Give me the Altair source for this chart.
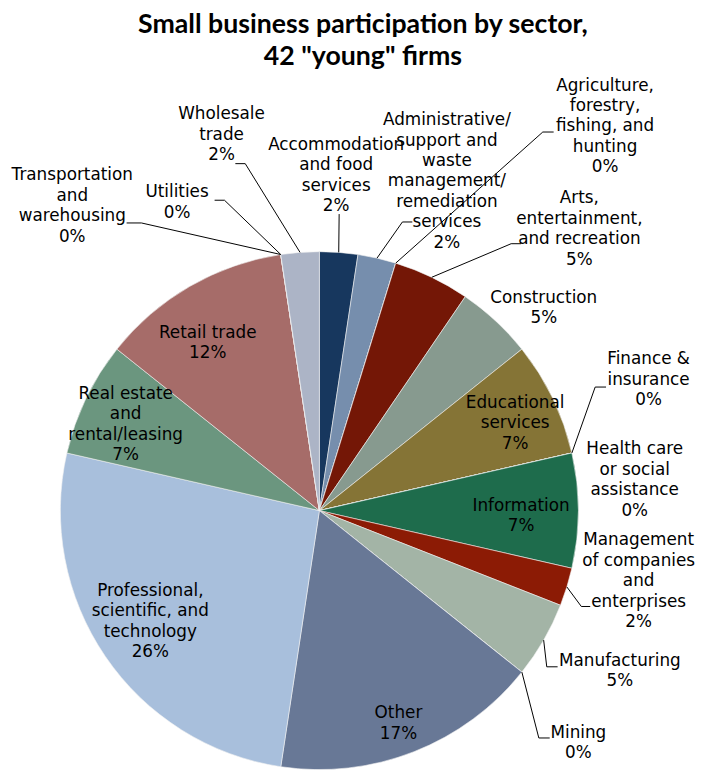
import math
import altair as alt
import pandas as pd

# ---------------- data ----------------
SECTORS = [
    "Accommodation and food services",
    "Administrative/support and waste management/remediation services",
    "Agriculture, forestry, fishing, and hunting",
    "Arts, entertainment, and recreation",
    "Construction",
    "Educational services",
    "Finance & insurance",
    "Health care or social assistance",
    "Information",
    "Management of companies and enterprises",
    "Manufacturing",
    "Mining",
    "Other",
    "Professional, scientific, and technology",
    "Real estate and rental/leasing",
    "Retail trade",
    "Transportation and warehousing",
    "Utilities",
    "Wholesale trade",
]
FIRMS = [1, 1, 0, 2, 2, 3, 0, 0, 3, 1, 2, 0, 7, 11, 3, 5, 0, 0, 1]

LABEL_TEXT = [
    "Accommodation\nand food\nservices",
    "Administrative/\nsupport and\nwaste\nmanagement/\nremediation\nservices",
    "Agriculture,\nforestry,\nfishing, and\nhunting",
    "Arts,\nentertainment,\nand recreation",
    "Construction",
    "Educational\nservices",
    "Finance &\ninsurance",
    "Health care\nor social\nassistance",
    "Information",
    "Management\nof companies\nand\nenterprises",
    "Manufacturing",
    "Mining",
    "Other",
    "Professional,\nscientific, and\ntechnology",
    "Real estate\nand\nrental/leasing",
    "Retail trade",
    "Transportation\nand\nwarehousing",
    "Utilities",
    "Wholesale\ntrade",
]

COLORS = [
    "#17375E", "#768EAD", "#4F6228", "#741706", "#879A8F", "#857436",
    "#4BACC6", "#F79646", "#1E6C4C", "#8C1B05", "#A3B4A6", "#7F7F7F",
    "#687896", "#A8BFDC", "#6B967F", "#A66C69", "#C0504D", "#9BBB59",
    "#ACB4C6",
]

TITLE = ["Small business participation by sector,", '42 "young" firms']

# ---------------- layout (page pixel positions) ----------------
CX, CY, R = 323, 512, 262
# centre x of each label block and y of its first line
LABEL_X = [340, 452, 612, 586, 550, 521, 656, 642, 527, 646, 627, 585, 403, 152, 127, 210, 73, 179, 224]
LABEL_Y = [142, 117, 82, 196, 297, 403, 359, 450, 507, 542, 664, 737, 717, 593, 394, 332, 173, 190, 111]

# leader lines: sector index -> (label-side point, elbow point)
LEADERS = {
    16: ((128, 221), (143, 221)),
    17: ((217, 198), (227, 198)),
    18: ((238, 161), (248, 161)),
    0: ((343, 212), (343, 212)),
    1: ((417, 220), (407, 220)),
    2: ((560, 129), (549, 129)),
    3: ((527, 242), (517, 242)),
    6: ((613, 387), (602, 387)),
    9: ((597, 609), (588, 609)),
    10: ((564, 670), (553, 670)),
    11: ((556, 742), (545, 742)),
}

# ---------------- tables ----------------
total = sum(FIRMS)
rows, cum, mids = [], 0, []
for i, (s, n) in enumerate(zip(SECTORS, FIRMS)):
    pct = round(100 * n / total)
    rows.append(dict(idx=i, sector=s, firms=n,
                     label=LABEL_TEXT[i] + "\n" + f"{pct}%",
                     lx=LABEL_X[i], ly=LABEL_Y[i]))
    mids.append(cum + n / 2)
    cum += n
df = pd.DataFrame(rows)

lrows = []
for i, (p0, p1) in LEADERS.items():
    a = 2 * math.pi * mids[i] / total
    edge = (CX + R * math.sin(a), CY - R * math.cos(a))
    for k, (px, py) in enumerate([p0, p1, edge]):
        lrows.append(dict(sector=SECTORS[i], seq=k, px=px, py=py))
ldf = pd.DataFrame(lrows)

XS = alt.Scale(domain=[8, 704], nice=False, zero=False)
YS = alt.Scale(domain=[8, 775], nice=False, zero=False, reverse=True)

pie = alt.Chart(df).mark_arc(outerRadius=R, stroke="#F2F2F2", strokeWidth=0.6).encode(
    theta=alt.Theta("firms:Q", stack=True),
    color=alt.Color("sector:N", scale=alt.Scale(domain=SECTORS, range=COLORS), legend=None),
    order=alt.Order("idx:Q"),
    x=alt.XDatum(CX, type="quantitative", scale=XS, axis=None),
    y=alt.YDatum(CY, type="quantitative", scale=YS, axis=None),
)

lines = alt.Chart(ldf).mark_line(color="black", strokeWidth=1).encode(
    x=alt.X("px:Q", scale=XS, axis=None),
    y=alt.Y("py:Q", scale=YS, axis=None),
    detail="sector:N",
    order="seq:Q",
)

labels = alt.Chart(df).mark_text(
    font="DejaVu Sans", fontSize=17, lineHeight=20.7, lineBreak="\n",
    align="center", baseline="middle", color="black",
).encode(
    x=alt.X("lx:Q", scale=XS, axis=None),
    y=alt.Y("ly:Q", scale=YS, axis=None),
    text="label:N",
)

chart = alt.layer(pie, lines, labels).properties(
    width=696, height=767, padding=0,
    autosize=alt.AutoSizeParams(type="none"),
    title=alt.TitleParams(text=TITLE, font="Lato", fontSize=27, fontWeight="bold",
                          lineHeight=32, color="black", anchor="middle",
                          baseline="top", offset=-59, dx=11),
).configure_view(stroke=None)

chart.save("out.html", embed_options={"renderer": "svg", "actions": False})
